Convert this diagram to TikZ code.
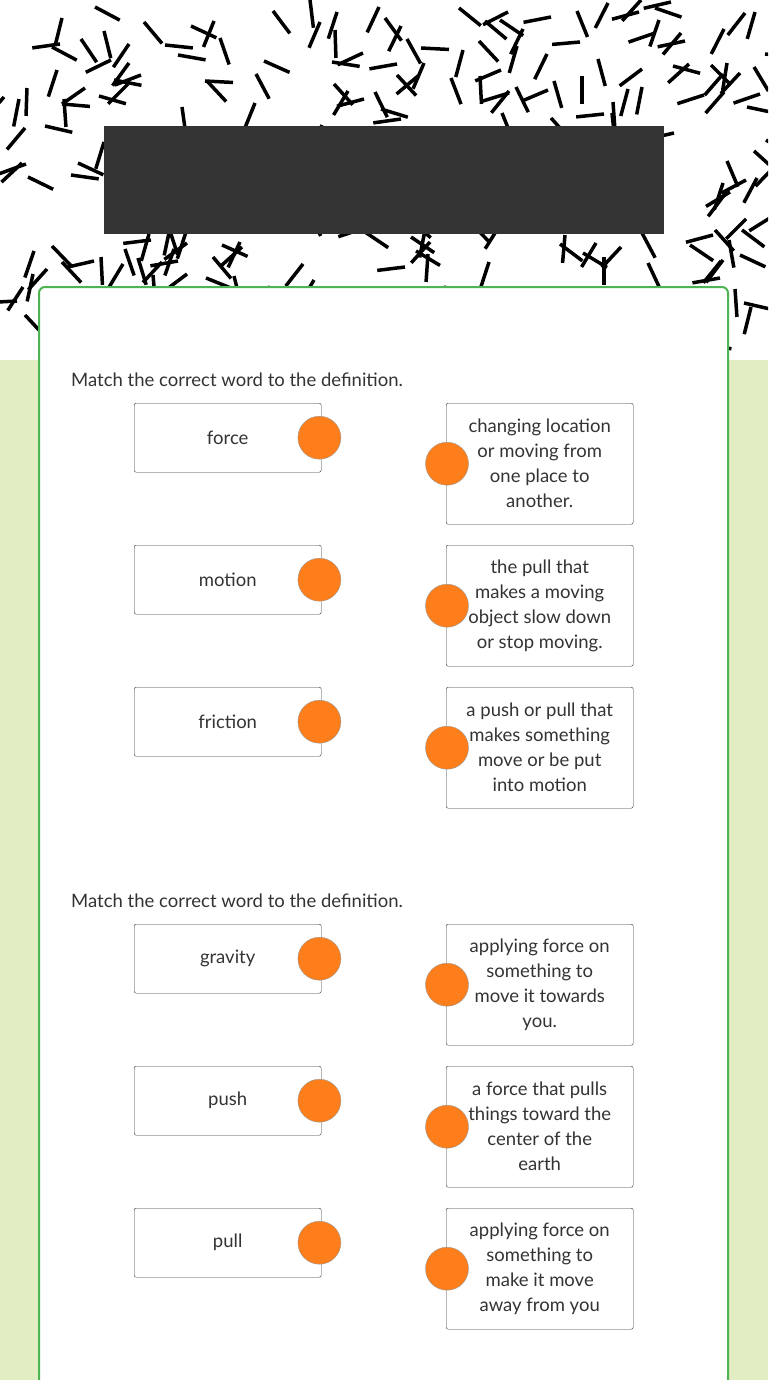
\documentclass[tikz,border=0pt]{standalone}
\usepackage{fontspec}
\setmainfont{Lato}
\usetikzlibrary{positioning}
\definecolor{bggreen}{HTML}{E2EDC4}
\definecolor{cardline}{HTML}{4CB551}
\definecolor{darkbar}{HTML}{333333}
\definecolor{dotfill}{HTML}{FD7E1A}
\definecolor{ink}{HTML}{333333}
\begin{document}
\begin{tikzpicture}[x=1pt,y=-1pt,
  word/.style={draw=ink,rounded corners=2pt,minimum width=187pt,minimum height=69pt,
    anchor=north west,inner sep=0pt,text=ink,font=\fontsize{18.5}{25}\selectfont},
  defn/.style={draw=ink,rounded corners=2pt,minimum width=187pt,minimum height=121pt,
    anchor=north west,inner sep=0pt,text=ink,align=center,font=\fontsize{18.5}{25}\selectfont},
  dot/.style={circle,fill=dotfill,draw=gray!80,minimum size=43pt,inner sep=0pt},
  intro/.style={anchor=west,inner sep=0pt,text=ink,font=\fontsize{18.5}{20}\selectfont}]

  \useasboundingbox (0,0) rectangle (768,1380);
  \fill[bggreen] (0,360) rectangle (768,1380);

  % pattern of strokes
  \begin{scope}
    \clip (0,0) rectangle (768,360);
    \pgfmathsetseed{11}
    \foreach \i in {1,...,330}{
      \pgfmathsetmacro{\px}{random(0,780)}
      \pgfmathsetmacro{\py}{random(0,370)}
      \pgfmathsetmacro{\pa}{random(0,180)}
      \draw[line width=3.5pt] (\px,\py) -- ++(\pa:28);
    }
  \end{scope}

  \fill[darkbar] (104,126) rectangle (664,234);
  \draw[cardline,line width=2pt,fill=white,rounded corners=6pt]
    (39,1400) -- (39,287) -- (728,287) -- (728,1400);

  \node[intro] (introA) at (71,380) {Match the correct word to the definition.};
  \node[intro] (introB) at (71,901) {Match the correct word to the definition.};

  \foreach \y/\w/\d [count=\n] in {
    403/force/{changing location\\or moving from\\one place to\\another.},
    545/motion/{the pull that\\makes a moving\\object slow down\\or stop moving.},
    687/friction/{a push or pull that\\makes something\\move or be put\\into motion},
    924/gravity/{applying force on\\something to\\move it towards\\you.},
    1066/push/{a force that pulls\\things toward the\\center of the\\earth},
    1208/pull/{applying force on\\something to\\make it move\\away from you}}{
    \node[word] (word\n) at (134,\y) {\w};
    \node[dot] (wdot\n) at ([xshift=-2pt]word\n.east) {};
    \node[defn] (def\n) at (446,\y) {\d};
    \node[dot] (ddot\n) at ([xshift=1pt]def\n.west) {};
  }
\end{tikzpicture}
\end{document}
